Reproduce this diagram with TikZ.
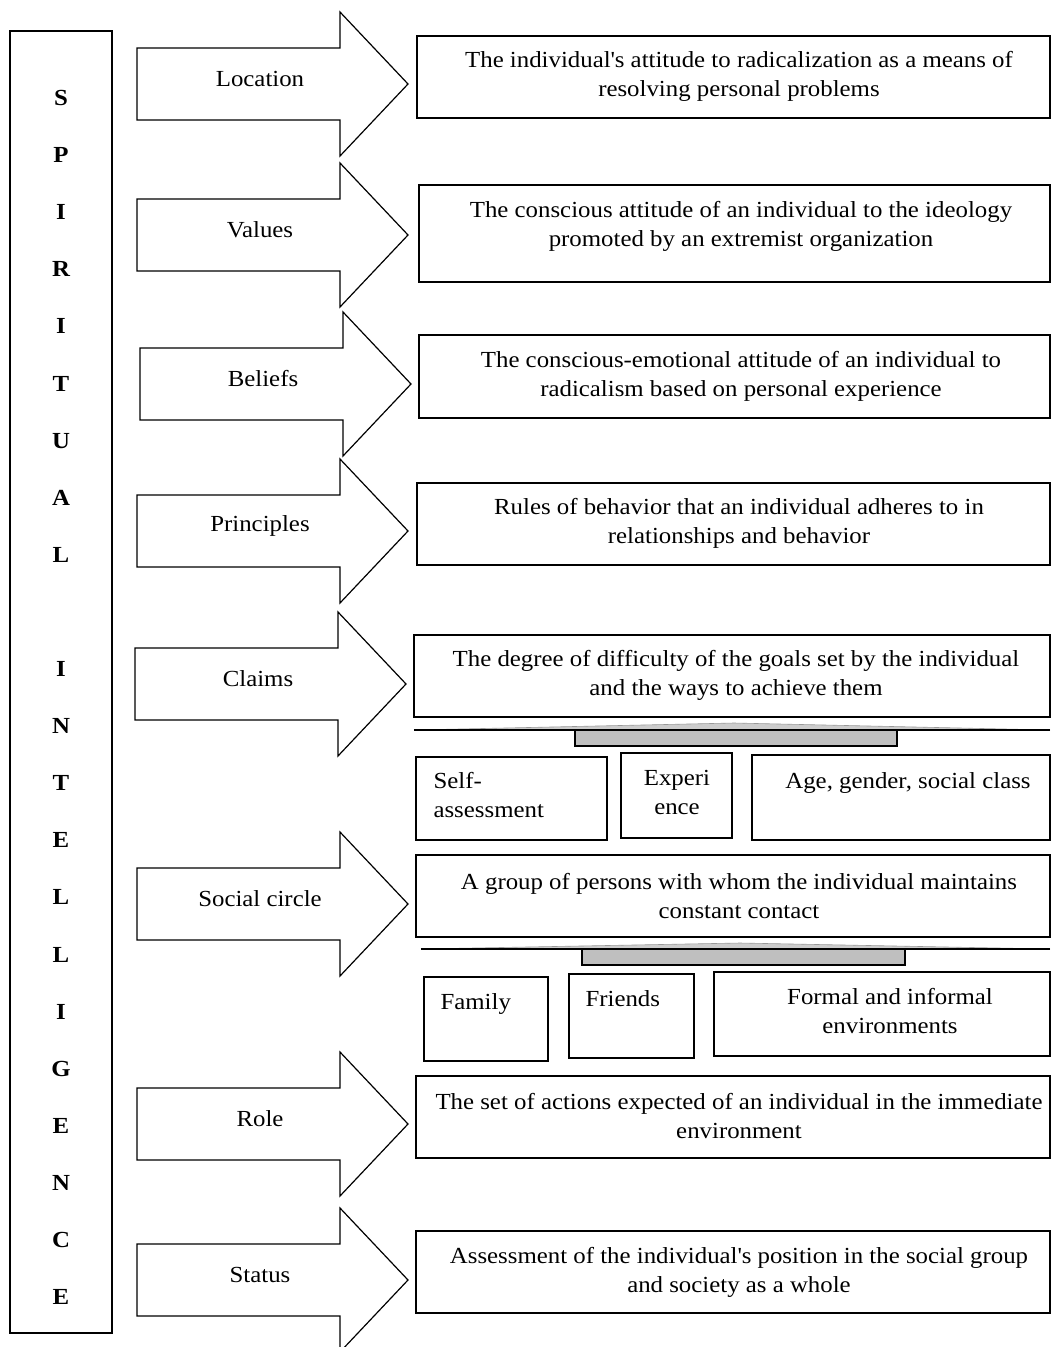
\documentclass[tikz,border=0pt]{standalone}
\usepackage{fontspec}
\setmainfont{Liberation Serif}[FakeStretch=1.08]
\tikzset{
  boxline/.style={draw, line width=1.3pt},
  descbox/.style={boxline, align=center, inner sep=0pt},
  subbox/.style={boxline, inner sep=0pt},
  subtext/.style={inner sep=0pt, align=center},
  vletter/.style={font=\fontsize{23}{29}\selectfont\bfseries, inner sep=0pt},
  lever/.style={draw=gray!80, line width=0.6pt, fill=gray!40},
  leverbar/.style={draw, line width=1.3pt, fill=gray!50},
  arrowline/.style={draw, line width=1.2pt, fill=white, line join=miter},
  bigarrow/.pic={
    \draw[arrowline] (0,-36) -- (203,-36) -- (203,-72) -- (271,0) -- (203,72) -- (203,36) -- (0,36) -- cycle;
    \node[inner sep=0pt] (-label) at (123,-5) {#1};
    \coordinate (-tip) at (271,0);
  },
}
\begin{document}
\begin{tikzpicture}[x=1pt, y=-1pt, font=\fontsize{23}{29}\selectfont]
  \useasboundingbox (0,0) rectangle (1052,1347);
  % left column
  \draw[line width=1.3pt] (10,31) rectangle (112,1333);
  \foreach \ch [count=\i from 0] in {S,P,I,R,I,T,U,A,L,{},I,N,T,E,L,L,I,G,E,N,C,E}
    \node[vletter] (let\i) at (61,{98+57.1*\i}) {\ch};
  % arrows
  \pic (loc) at (137,84) {bigarrow=Location};
  \pic (val) at (137,235) {bigarrow=Values};
  \pic (bel) at (140,384) {bigarrow=Beliefs};
  \pic (pri) at (137,531) {bigarrow=Principles};
  \pic (cla) at (135,684) {bigarrow=Claims};
  \pic (soc) at (137,904) {bigarrow=Social circle};
  \pic (rol) at (137,1124) {bigarrow=Role};
  \pic (sta) at (137,1280) {bigarrow=Status};
  % description boxes
  \node[descbox, minimum width=633pt, minimum height=82pt] (locbox) at (733.5,77) {};
  \node[align=center] (loctext) at (739,76) {The individual\textquotesingle s attitude to radicalization as a means of\\resolving personal problems};
  \node[descbox, minimum width=631pt, minimum height=97pt] (valbox) at (734.5,233.5) {};
  \node[align=center] (valtext) at (741,226) {The conscious attitude of an individual to the ideology\\promoted by an extremist organization};
  \node[descbox, minimum width=631pt, minimum height=83pt] (belbox) at (734.5,376.5) {};
  \node[align=center] (beltext) at (741,376) {The conscious-emotional attitude of an individual to\\radicalism based on personal experience};
  \node[descbox, minimum width=633pt, minimum height=82pt] (pribox) at (733.5,524) {};
  \node[align=center] (pritext) at (739,523) {Rules of behavior that an individual adheres to in\\relationships and behavior};
  \node[descbox, minimum width=636pt, minimum height=82pt] (clabox) at (732,676) {};
  \node[align=center] (clatext) at (736,675) {The degree of difficulty of the goals set by the individual\\and the ways to achieve them};
  \node[descbox, minimum width=634pt, minimum height=82pt] (socbox) at (733,896) {};
  \node[align=center] (soctext) at (739,896) {A group of persons with whom the individual maintains\\constant contact};
  \node[descbox, minimum width=634pt, minimum height=82pt] (rolbox) at (733,1117) {};
  \node[align=center] (roltext) at (739,1116) {The set of actions expected of an individual in the immediate\\environment};
  \node[descbox, minimum width=634pt, minimum height=82pt] (stabox) at (733,1272) {};
  \node[align=center] (statext) at (739,1272) {Assessment of the individual\textquotesingle s position in the social group\\and society as a whole};
  % levers
  \draw[lever] (414,730) -- (734,723) -- (1050,730) -- cycle;
  \draw[line width=1.8pt] (414,730) -- (1050,730);
  \draw[leverbar] (575,730) rectangle (897,746);
  \draw[lever] (421,949) -- (740,943) -- (1050,949) -- cycle;
  \draw[line width=1.8pt] (421,949) -- (1050,949);
  \draw[leverbar] (582,949) rectangle (905,965);
  % factor boxes
  \node[subbox, minimum width=191pt, minimum height=83pt] (self) at (511.5,798.5) {};
  \node[subbox, minimum width=111pt, minimum height=85pt] (exp) at (676.5,795.5) {};
  \node[subbox, minimum width=298pt, minimum height=85pt] (age) at (901,797.5) {};
  \node[subbox, minimum width=124pt, minimum height=84pt] (fam) at (486,1019) {};
  \node[subbox, minimum width=125pt, minimum height=84pt] (fri) at (631.5,1016) {};
  \node[subbox, minimum width=336pt, minimum height=84pt] (form) at (882,1014) {};
  \node[subtext, align=left, anchor=north west] (selftext) at ([shift={(18,16)}]self.north west) {Self-\\assessment};
  \node[subtext, anchor=north] (exptext) at ([shift={(0.5,18)}]exp.north) {Experi\\ence};
  \node[subtext, anchor=north] (agetext) at ([shift={(7,18)}]age.north) {Age, gender, social class};
  \node[subtext, anchor=north west] (famtext) at ([shift={(17,17)}]fam.north west) {Family};
  \node[subtext, anchor=north west] (fritext) at ([shift={(17,17)}]fri.north west) {Friends};
  \node[subtext, anchor=north] (formtext) at ([shift={(8,17)}]form.north) {Formal and informal\\environments};
\end{tikzpicture}
\end{document}
